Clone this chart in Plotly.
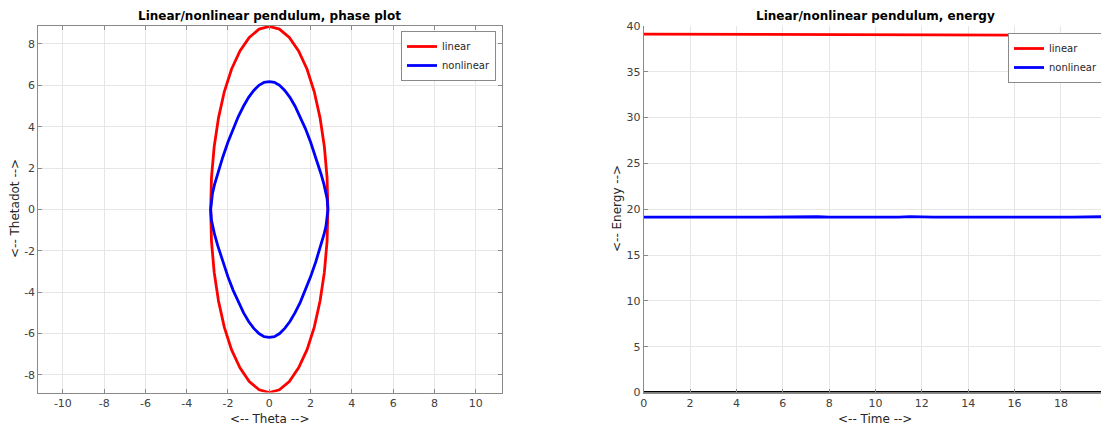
import plotly.graph_objects as go

# ---- Phase plot data ----
theta_lin = [2.84, 2.80, 2.67, 2.46, 2.18, 1.83, 1.42, 0.97, 0.49, 0.0, -0.49, -0.97, -1.42, -1.83,
             -2.18, -2.46, -2.67, -2.80, -2.84, -2.80, -2.67, -2.46, -2.18, -1.83, -1.42, -0.97,
             -0.49, 0.0, 0.49, 0.97, 1.42, 1.83, 2.18, 2.46, 2.67, 2.80, 2.84]
thetadot_lin = [0.0, -1.54, -3.03, -4.43, -5.69, -6.78, -7.66, -8.32, -8.72, -8.85, -8.72, -8.32,
                -7.66, -6.78, -5.69, -4.43, -3.03, -1.54, 0.0, 1.54, 3.03, 4.43, 5.69, 6.78, 7.66,
                8.32, 8.72, 8.85, 8.72, 8.32, 7.66, 6.78, 5.69, 4.43, 3.03, 1.54, 0.0]

theta_nl = [2.84, 2.80, 2.75, 2.65, 2.50, 2.25, 2.00, 1.75, 1.50, 1.25, 1.00, 0.75, 0.50, 0.25, 0.0,
            -0.25, -0.50, -0.75, -1.00, -1.25, -1.50, -1.75, -2.00, -2.25, -2.50, -2.65, -2.75, -2.80,
            -2.84, -2.80, -2.75, -2.65, -2.50, -2.25, -2.00, -1.75, -1.50, -1.25, -1.00, -0.75, -0.50,
            -0.25, 0.0, 0.25, 0.50, 0.75, 1.00, 1.25, 1.50, 1.75, 2.00, 2.25, 2.50, 2.65, 2.75, 2.80, 2.84]
thetadot_nl = [0.0, -0.53, -0.79, -1.21, -1.74, -2.54, -3.26, -3.91, -4.49, -4.99, -5.42, -5.75, -6.00,
               -6.15, -6.18, -6.15, -6.00, -5.75, -5.42, -4.99, -4.49, -3.91, -3.26, -2.54, -1.74, -1.21,
               -0.79, -0.53, 0.0, 0.53, 0.79, 1.21, 1.74, 2.54, 3.26, 3.91, 4.49, 4.99, 5.42, 5.75, 6.00,
               6.15, 6.18, 6.15, 6.00, 5.75, 5.42, 4.99, 4.49, 3.91, 3.26, 2.54, 1.74, 1.21, 0.79, 0.53, 0.0]

# ---- Energy data ----
time_lin = [0, 2, 4, 6, 8, 10, 12, 14, 16, 18, 20]
energy_lin = [39.12, 39.10, 39.09, 39.07, 39.06, 39.04, 39.03, 39.01, 39.00, 38.98, 38.97]

time_nl = [0, 0.5, 1, 1.5, 2, 2.5, 3, 3.5, 4, 4.5, 5, 5.5, 6, 6.5, 7, 7.5, 8, 8.5, 9, 9.5, 10,
           10.5, 11, 11.5, 12, 12.5, 13, 13.5, 14, 14.5, 15, 15.5, 16, 16.5, 17, 17.5, 18, 18.5,
           19, 19.5, 20]
energy_nl = [19.15, 19.16, 19.20, 19.15, 19.13, 19.15, 19.19, 19.14, 19.13, 19.14, 19.18, 19.15,
             19.13, 19.14, 19.16, 19.18, 19.14, 19.13, 19.15, 19.19, 19.15, 19.13, 19.15, 19.19,
             19.14, 19.13, 19.15, 19.19, 19.15, 19.13, 19.15, 19.19, 19.14, 19.13, 19.15, 19.19,
             19.15, 19.13, 19.15, 19.18, 19.19]

time_zero = [0, 20]
energy_zero = [0, 0]

theta_ticks = [-10, -8, -6, -4, -2, 0, 2, 4, 6, 8, 10]
thetadot_ticks = [-8, -6, -4, -2, 0, 2, 4, 6, 8]
time_ticks = [0, 2, 4, 6, 8, 10, 12, 14, 16, 18, 20]
energy_ticks = [0, 5, 10, 15, 20, 25, 30, 35, 40]

# The page body has an 8px margin; size the figure so it ends at the window edge
OFF = 8
W, H = 1109 - OFF, 426 - OFF
FONT = "DejaVu Sans"
TICKC = "#404040"
FRAME = "#8a8a8a"
GRID = "#e6e6e6"


def px(p):
    return (p - OFF) / W


def py(p):
    return 1 - (p - OFF) / H


def labels(vals):
    return [str(v) for v in vals]


fig = go.Figure()
fig.add_trace(go.Scatter(x=theta_lin, y=thetadot_lin, mode="lines", name="linear",
                         line=dict(color="#ff0000", width=2.8), xaxis="x", yaxis="y", legend="legend"))
fig.add_trace(go.Scatter(x=theta_nl, y=thetadot_nl, mode="lines", name="nonlinear",
                         line=dict(color="#0000ff", width=2.8), xaxis="x", yaxis="y", legend="legend"))
fig.add_trace(go.Scatter(x=time_lin, y=energy_lin, mode="lines", name="linear",
                         line=dict(color="#ff0000", width=2.8), xaxis="x2", yaxis="y2", legend="legend2"))
fig.add_trace(go.Scatter(x=time_nl, y=energy_nl, mode="lines", name="nonlinear",
                         line=dict(color="#0000ff", width=2.8), xaxis="x2", yaxis="y2", legend="legend2"))
fig.add_trace(go.Scatter(x=time_zero, y=energy_zero, mode="lines", name="zero", showlegend=False,
                         line=dict(color="#000000", width=3.2), xaxis="x2", yaxis="y2", cliponaxis=False))

ydom = [py(392.5), py(26)]
common = dict(showgrid=True, gridcolor=GRID, gridwidth=1, zeroline=False, showline=True,
              linecolor=FRAME, linewidth=1, ticks="inside", ticklen=4, tickcolor=FRAME,
              automargin=False, ticklabeloverflow="allow",
              tickfont=dict(family=FONT, size=11, color=TICKC))

legfont = dict(family=FONT, size=10, color="#262626")
fig.update_layout(
    width=W, height=H, margin=dict(l=0, r=0, t=0, b=0, autoexpand=False),
    paper_bgcolor="white", plot_bgcolor="white",
    font=dict(family=FONT, size=11, color=TICKC),
    xaxis=dict(domain=[px(38.3), px(501.7)], range=[-11.19, 11.26], tickvals=theta_ticks,
               ticktext=labels(theta_ticks), mirror="ticks", anchor="y", **common),
    yaxis=dict(domain=ydom, range=[-8.85, 8.87], tickvals=thetadot_ticks,
               ticktext=labels(thetadot_ticks), mirror="ticks", anchor="x", **common),
    xaxis2=dict(domain=[px(643.7), px(1107.3)], range=[0, 20], tickvals=time_ticks,
                ticktext=labels(time_ticks), anchor="y2", **common),
    yaxis2=dict(domain=ydom, range=[0, 40], tickvals=energy_ticks,
                ticktext=labels(energy_ticks), anchor="x2", **common),
    legend=dict(x=px(401), y=py(31), xanchor="left", yanchor="top", bgcolor="white",
                bordercolor="#8a8a8a", borderwidth=1, font=legfont,
                tracegroupgap=0, itemwidth=30),
    legend2=dict(x=px(1008), y=py(33), xanchor="left", yanchor="top", bgcolor="white",
                 bordercolor="#8a8a8a", borderwidth=1, font=legfont,
                 tracegroupgap=0, itemwidth=30),
    showlegend=True,
)

annots = [
    dict(text="<b>Linear/nonlinear pendulum, phase plot</b>", x=px(269.5), y=py(16),
         font=dict(size=12, color="#000000")),
    dict(text="<b>Linear/nonlinear pendulum, energy</b>", x=px(875), y=py(16),
         font=dict(size=12, color="#000000")),
    dict(text="<-- Theta -->", x=px(269.5), y=py(419), font=dict(size=12, color="#262626")),
    dict(text="<-- Time -->", x=px(875), y=py(419), font=dict(size=12, color="#262626")),
    dict(text="<-- Thetadot -->", x=px(15), y=py(209), textangle=-90,
         font=dict(size=12, color="#262626")),
    dict(text="<-- Energy -->", x=px(617), y=py(209), textangle=-90,
         font=dict(size=12, color="#262626")),
]
for a in annots:
    fig.add_annotation(xref="paper", yref="paper", showarrow=False, xanchor="center",
                       yanchor="middle", **{k: v for k, v in a.items() if k != "font"},
                       font=dict(family=FONT, **a["font"]))

fig.write_html("out.html")
